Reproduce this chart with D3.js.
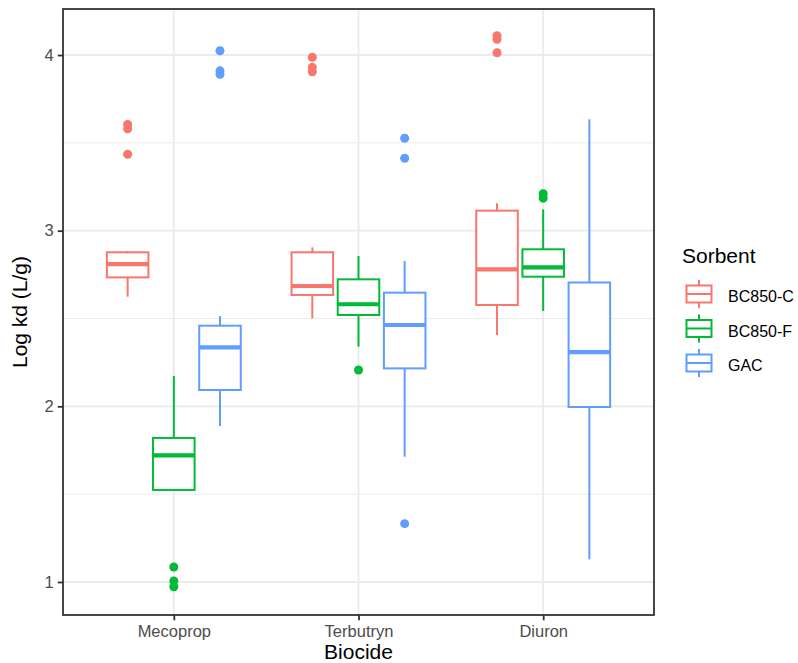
<!DOCTYPE html>
<html>
<head>
<meta charset="utf-8">
<script src="https://cdn.jsdelivr.net/npm/d3@7"></script>
<style>
  body { margin: 0; background: #fff; }
  text { font-family: "Liberation Sans", Arial, sans-serif; }
</style>
</head>
<body>
<svg id="chart" width="798" height="663"></svg>
<script>
// data
var biocides = ["Mecoprop", "Terbutryn", "Diuron"];
var sorbents = ["BC850-C", "BC850-F", "GAC"];
var colors = ["#F8766D", "#00BA38", "#619CFF"];

// [lower whisker, q1, median, q3, upper whisker] per biocide
var statsBC850C = [
  [2.624, 2.734, 2.809, 2.877, 2.884],
  [2.501, 2.634, 2.685, 2.877, 2.905],
  [2.406, 2.577, 2.780, 3.114, 3.156]
];
var statsBC850F = [
  [1.524, 1.524, 1.721, 1.820, 2.173],
  [2.340, 2.520, 2.581, 2.723, 2.856],
  [2.543, 2.738, 2.791, 2.894, 3.121]
];
var statsGAC = [
  [1.888, 2.093, 2.336, 2.459, 2.514],
  [1.713, 2.216, 2.463, 2.647, 2.827],
  [1.129, 1.996, 2.308, 2.705, 3.634]
];

var outBC850C = [[3.435, 3.58, 3.605], [3.987, 3.93, 3.905], [4.013, 4.09, 4.11]];
var outBC850F = [[1.085, 1.006, 0.973], [2.207], [3.185, 3.21]];
var outGAC = [[4.024, 3.91, 3.89], [3.526, 3.412, 1.332], []];

var yTicks = [1, 2, 3, 4];
var yMinor = [1.5, 2.5, 3.5];

var allStats = [statsBC850C, statsBC850F, statsGAC];
var allOut = [outBC850C, outBC850F, outGAC];

var svg = d3.select("#chart");
var pLeft = 63, pRight = 654, pTop = 9, pBottom = 615;
var lw = 2;

var x = d3.scalePoint().domain(biocides).range([pLeft, pRight]).padding(0.6);
var dodge = d3.scaleBand().domain(sorbents).range([-x.step() * 0.375, x.step() * 0.375]);
var boxW = dodge.bandwidth() * 0.9;

var y = d3.scaleLinear().domain([0.812, 4.262]).range([pBottom, pTop]);

// grid
var grid = svg.append("g");
grid.selectAll(".minor").data(yMinor).enter().append("line")
  .attr("x1", pLeft).attr("x2", pRight)
  .attr("y1", function (d) { return y(d); }).attr("y2", function (d) { return y(d); })
  .attr("stroke", "#EBEBEB").attr("stroke-width", 1);
grid.selectAll(".major").data(yTicks).enter().append("line")
  .attr("x1", pLeft).attr("x2", pRight)
  .attr("y1", function (d) { return y(d); }).attr("y2", function (d) { return y(d); })
  .attr("stroke", "#EBEBEB").attr("stroke-width", 1.8);
grid.selectAll(".vmajor").data(biocides).enter().append("line")
  .attr("y1", pTop).attr("y2", pBottom)
  .attr("x1", function (d) { return x(d); }).attr("x2", function (d) { return x(d); })
  .attr("stroke", "#EBEBEB").attr("stroke-width", 1.8);

// boxes
var marks = svg.append("g");
sorbents.forEach(function (s, si) {
  var col = colors[si];
  biocides.forEach(function (b, bi) {
    var st = allStats[si][bi];
    var cx = x(b) + dodge(s) + dodge.bandwidth() / 2;
    var g = marks.append("g");
    g.append("line").attr("x1", cx).attr("x2", cx)
      .attr("y1", y(st[4])).attr("y2", y(st[3]))
      .attr("stroke", col).attr("stroke-width", lw);
    g.append("line").attr("x1", cx).attr("x2", cx)
      .attr("y1", y(st[1])).attr("y2", y(st[0]))
      .attr("stroke", col).attr("stroke-width", lw);
    g.append("rect")
      .attr("x", cx - boxW / 2).attr("width", boxW)
      .attr("y", y(st[3])).attr("height", y(st[1]) - y(st[3]))
      .attr("fill", "#fff").attr("stroke", col).attr("stroke-width", lw);
    g.append("line").attr("x1", cx - boxW / 2).attr("x2", cx + boxW / 2)
      .attr("y1", y(st[2])).attr("y2", y(st[2]))
      .attr("stroke", col).attr("stroke-width", 4.2);
    g.selectAll("circle").data(allOut[si][bi]).enter().append("circle")
      .attr("cx", cx).attr("cy", function (d) { return y(d); })
      .attr("r", 4.5).attr("fill", col);
  });
});

// panel border
svg.append("rect").attr("x", pLeft).attr("y", pTop)
  .attr("width", pRight - pLeft).attr("height", pBottom - pTop)
  .attr("fill", "none").attr("stroke", "#333333").attr("stroke-width", 1.8);

// axes
var yAxis = svg.append("g").attr("transform", "translate(" + pLeft + ",0)")
  .call(d3.axisLeft(y).tickValues(yTicks).tickFormat(d3.format("d")).tickSize(5.3).tickPadding(4));
var xAxis = svg.append("g").attr("transform", "translate(0," + pBottom + ")")
  .call(d3.axisBottom(x).tickSize(5.3).tickPadding(4.7));
[yAxis, xAxis].forEach(function (a) {
  a.select(".domain").remove();
  a.selectAll(".tick line").attr("stroke", "#333333").attr("stroke-width", 1.8);
  a.selectAll(".tick text").attr("fill", "#4D4D4D").style("font-size", "16.5px")
    .style("font-family", "'Liberation Sans', Arial, sans-serif");
});

svg.append("text").attr("x", (pLeft + pRight) / 2).attr("y", 659).attr("text-anchor", "middle")
  .style("font-size", "21px").attr("fill", "#000").text("Biocide");
svg.append("text").attr("transform", "translate(27," + ((pTop + pBottom) / 2) + ") rotate(-90)")
  .attr("text-anchor", "middle").style("font-size", "21px").attr("fill", "#000").text("Log kd (L/g)");

// legend
var leg = svg.append("g").attr("transform", "translate(682,0)");
leg.append("text").attr("x", 0).attr("y", 263).style("font-size", "21px").text("Sorbent");
sorbents.forEach(function (s, i) {
  var cy = 294 + i * 34.5;
  var col = colors[i];
  var k = leg.append("g");
  k.append("line").attr("x1", 17).attr("x2", 17).attr("y1", cy - 14).attr("y2", cy + 14)
    .attr("stroke", col).attr("stroke-width", lw);
  k.append("rect").attr("x", 4.5).attr("y", cy - 8.5).attr("width", 25).attr("height", 17)
    .attr("fill", "#fff").attr("stroke", col).attr("stroke-width", lw);
  k.append("line").attr("x1", 4.5).attr("x2", 29.5).attr("y1", cy).attr("y2", cy)
    .attr("stroke", col).attr("stroke-width", lw);
  leg.append("text").attr("x", 46).attr("y", cy + 8).style("font-size", "16px").text(s);
});
</script>
</body>
</html>
